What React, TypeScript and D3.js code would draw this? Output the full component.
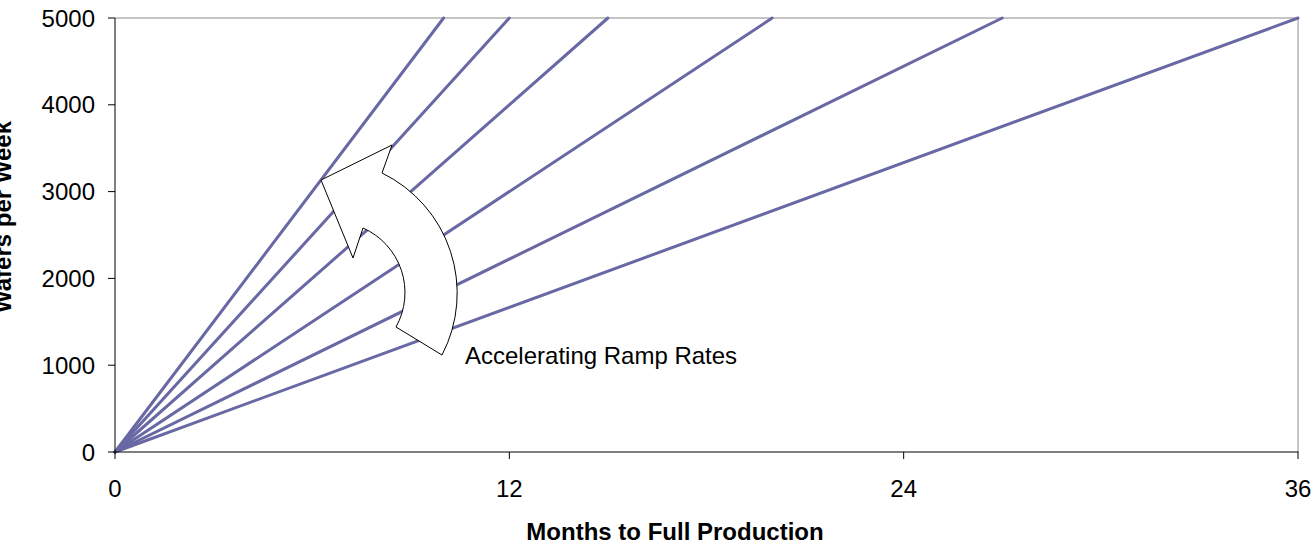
import React from "react";
import * as d3 from "d3";

// Months needed to reach full production for each ramp scenario
const rampMonths = [10, 12, 15, 20, 27, 36];
const startRate = 0;
const fullRate = 5000;
const xTicks = [0, 12, 24, 36];
const yTicks = [0, 1000, 2000, 3000, 4000, 5000];
const xTitle = "Months to Full Production";
const yTitle = "Wafers per Week";
const annotation = "Accelerating Ramp Rates";

const W = 1315;
const H = 550;
const FONT = "'Liberation Sans', Arial, sans-serif";
const LINE_COLOR = "#6868a4";

export default function App() {
  const left = 115;
  const right = 1298;
  const top = 18;
  const bottom = 452;

  const x = d3.scaleLinear().domain([0, 36]).range([left, right]);
  const y = d3.scaleLinear().domain([0, fullRate]).range([bottom, top]);
  const line = d3
    .line<[number, number]>()
    .x((d) => x(d[0]))
    .y((d) => y(d[1]));

  const series = rampMonths.map((m) => [
    [0, startRate],
    [m, fullRate],
  ] as [number, number][]);

  // curved block arrow sweeping from the slow ramps toward the fast ones
  const arrow =
    "M396,327 L442,355 A133.6,133.6 0 0 0 382,173 L392,145 L321,180 L353,258 L363,228 A70.6,70.6 0 0 1 396,327 Z";

  return (
    <svg
      width={W}
      height={H}
      style={{ position: "absolute", left: 0, top: 0, background: "#fff" }}
      fontFamily={FONT}
    >
      {/* plot frame: grey top/right, black axes */}
      <line x1={left} x2={right} y1={top} y2={top} stroke="#8c8c8c" strokeWidth={1} />
      <line x1={right} x2={right} y1={top} y2={bottom} stroke="#8c8c8c" strokeWidth={1} />

      {series.map((s, i) => (
        <path
          key={i}
          d={line(s) || ""}
          fill="none"
          stroke={LINE_COLOR}
          strokeWidth={3}
          strokeLinecap="round"
        />
      ))}

      <line x1={left} x2={left} y1={top} y2={bottom + 0.5} stroke="#000" strokeWidth={1} />
      <line x1={left} x2={right + 0.5} y1={bottom} y2={bottom} stroke="#000" strokeWidth={1} />

      {yTicks.map((t) => (
        <g key={"y" + t}>
          <line x1={left - 7} x2={left} y1={y(t)} y2={y(t)} stroke="#000" strokeWidth={1} />
          <text
            x={95}
            y={y(t)}
            dy="0.36em"
            textAnchor="end"
            fontSize={24}
            fill="#000"
          >
            {t}
          </text>
        </g>
      ))}

      {xTicks.map((t) => (
        <g key={"x" + t}>
          <line x1={x(t)} x2={x(t)} y1={bottom} y2={bottom + 7} stroke="#000" strokeWidth={1} />
          <text x={x(t)} y={497} textAnchor="middle" fontSize={24} fill="#000">
            {t}
          </text>
        </g>
      ))}

      <text
        x={675}
        y={540}
        textAnchor="middle"
        fontSize={24}
        fontWeight="bold"
        fill="#000"
      >
        {xTitle}
      </text>

      <text
        transform={`translate(11,217) rotate(-90)`}
        textAnchor="middle"
        fontSize={24}
        fontWeight="bold"
        fill="#000"
      >
        {yTitle}
      </text>

      <path d={arrow} fill="#fff" stroke="#000" strokeWidth={1} strokeLinejoin="miter" />
      <text x={465} y={364} fontSize={24} fill="#000">
        {annotation}
      </text>
    </svg>
  );
}
